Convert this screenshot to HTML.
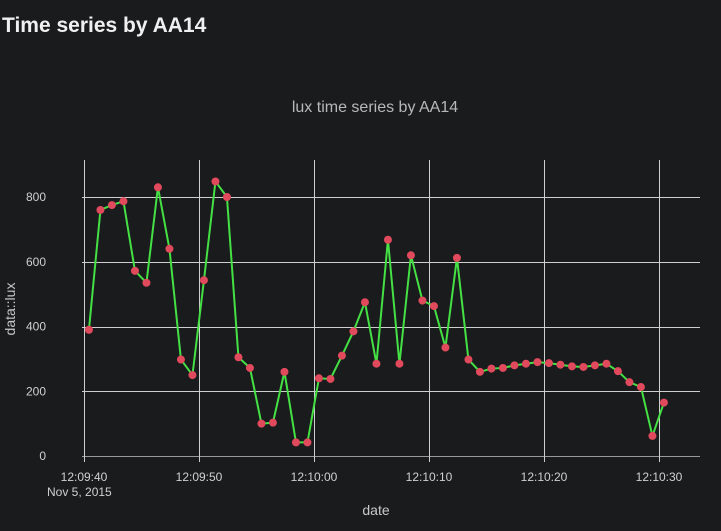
<!DOCTYPE html>
<html><head><meta charset="utf-8"><style>
body{margin:0;background:#1a1b1d;width:721px;height:531px;overflow:hidden;font-family:"Liberation Sans","DejaVu Sans",sans-serif}
h1{position:absolute;left:2px;top:14px;margin:0;font-size:21px;font-weight:bold;color:#f0f0f0}
svg{position:absolute;left:0;top:0}
</style></head><body>
<h1>Time series by AA14</h1>
<svg id="c" width="721" height="531"></svg>
<script>
const secondsOffsets=[0,1,2,3,4,5,6,7,8,9,10,11,12,13,14,15,16,17,18,19,20,21,22,23,24,25,26,27,28,29,30,31,32,33,34,35,36,37,38,39,40,41,42,43,44,45,46,47,48,49,50];
const luxValues=[390,760,775,787,572,535,830,640,298,250,543,848,800,305,272,100,103,260,42,42,240,238,310,385,475,285,668,285,620,480,463,335,612,298,260,270,272,280,285,290,287,282,277,275,280,285,262,228,213,62,165];
const yTicks=[0,200,400,600,800];
const xTickSecs=[0,10,20,30,40,50];
const xTickLabels=["12:09:40","12:09:50","12:10:00","12:10:10","12:10:20","12:10:30"];
const startOffset=0.43;
const NS="http://www.w3.org/2000/svg";
const svg=document.getElementById('c');
function X(s){return 84+s*11.5;}
function Y(v){return 456-v*(259/800);}
function mk(t,a,p){const e=document.createElementNS(NS,t);for(const k in a)e.setAttribute(k,a[k]);(p||svg).appendChild(e);return e;}
yTicks.forEach(v=>{
 const l=mk('line',{x1:82,x2:700,y1:Math.round(Y(v))+0.5,y2:Math.round(Y(v))+0.5,stroke:v===0?'#999':'#cfcfcf','stroke-width':1});
 
 
 const t=mk('text',{x:46,y:Y(v)+4,'text-anchor':'end','font-size':12,fill:'#d0d0d0'});t.textContent=v;
 
 
});
xTickSecs.forEach((s,i)=>{
 const l=mk('line',{x1:Math.round(X(s))+0.5,x2:Math.round(X(s))+0.5,y1:160,y2:462,stroke:'#cfcfcf','stroke-width':1});
 
 
 const t=mk('text',{x:X(s),y:481,'text-anchor':'middle','font-size':12,fill:'#d0d0d0'});t.textContent=xTickLabels[i];
 
 
});
const d=mk('text',{x:47,y:496,'font-size':12,fill:'#d0d0d0'});d.textContent='Nov 5, 2015';


const pts=luxValues.map((v,i)=>X(startOffset+secondsOffsets[i])+','+Y(v)).join(' ');
const pl=mk('polyline',{points:pts,fill:'none',stroke:'#44e044','stroke-width':2});


luxValues.forEach((v,i)=>{
 const c=mk('circle',{cx:X(startOffset+secondsOffsets[i]),cy:Y(v),r:4,fill:'#e04a5c'});
 
 
});
const tt=mk('text',{x:375,y:112,'text-anchor':'middle','font-size':16,fill:'#b8b8b8'});tt.textContent='lux time series by AA14';


const xt=mk('text',{x:376,y:515,'text-anchor':'middle','font-size':14,fill:'#c8c8c8'});xt.textContent='date';


const yt=mk('text',{x:15,y:309,'text-anchor':'middle','font-size':14,fill:'#c8c8c8',transform:'rotate(-90 15 309)'});yt.textContent='data::lux';


</script>
</body></html>
